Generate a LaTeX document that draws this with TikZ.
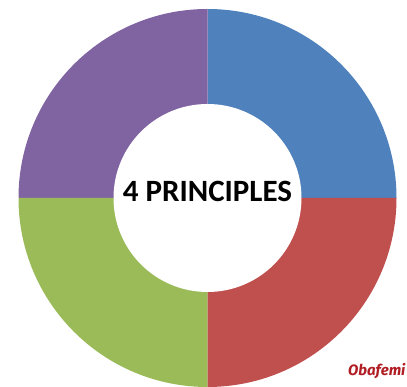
\documentclass[tikz,border=0pt]{standalone}
\usepackage{fontspec}
\setmainfont{Carlito}
\newfontfamily\signfont{Fira Sans}
\definecolor{segblue}{HTML}{4F81BD}
\definecolor{segpurple}{HTML}{8064A2}
\definecolor{seggreen}{HTML}{9BBB59}
\definecolor{segred}{HTML}{C0504D}
\definecolor{signred}{HTML}{B01E23}
\begin{document}
\begin{tikzpicture}[x=1pt,y=1pt, every node/.style = {inner sep=0pt}]
\useasboundingbox (0,0) rectangle (407,387);
\clip (0,0) rectangle (407,387);

\coordinate (o) at (207.5,189);
\foreach \start/\col in {0/segblue,90/segpurple,180/seggreen,270/segred}
{
	\fill[\col] (o) -- ++(\start:189) arc[start angle=\start, delta angle=90, radius=189] -- cycle;
};
\fill[white] (o) circle [radius=94];

\node[anchor=base, font=\bfseries\fontsize{31}{31}\selectfont] (title) at (207.5,185) {4 PRINCIPLES};
\node[anchor=base west, text=signred, font=\signfont\bfseries\itshape\fontsize{15}{15}\selectfont] (sign) at (348,11) {Obafemi};
\end{tikzpicture}
\end{document}
